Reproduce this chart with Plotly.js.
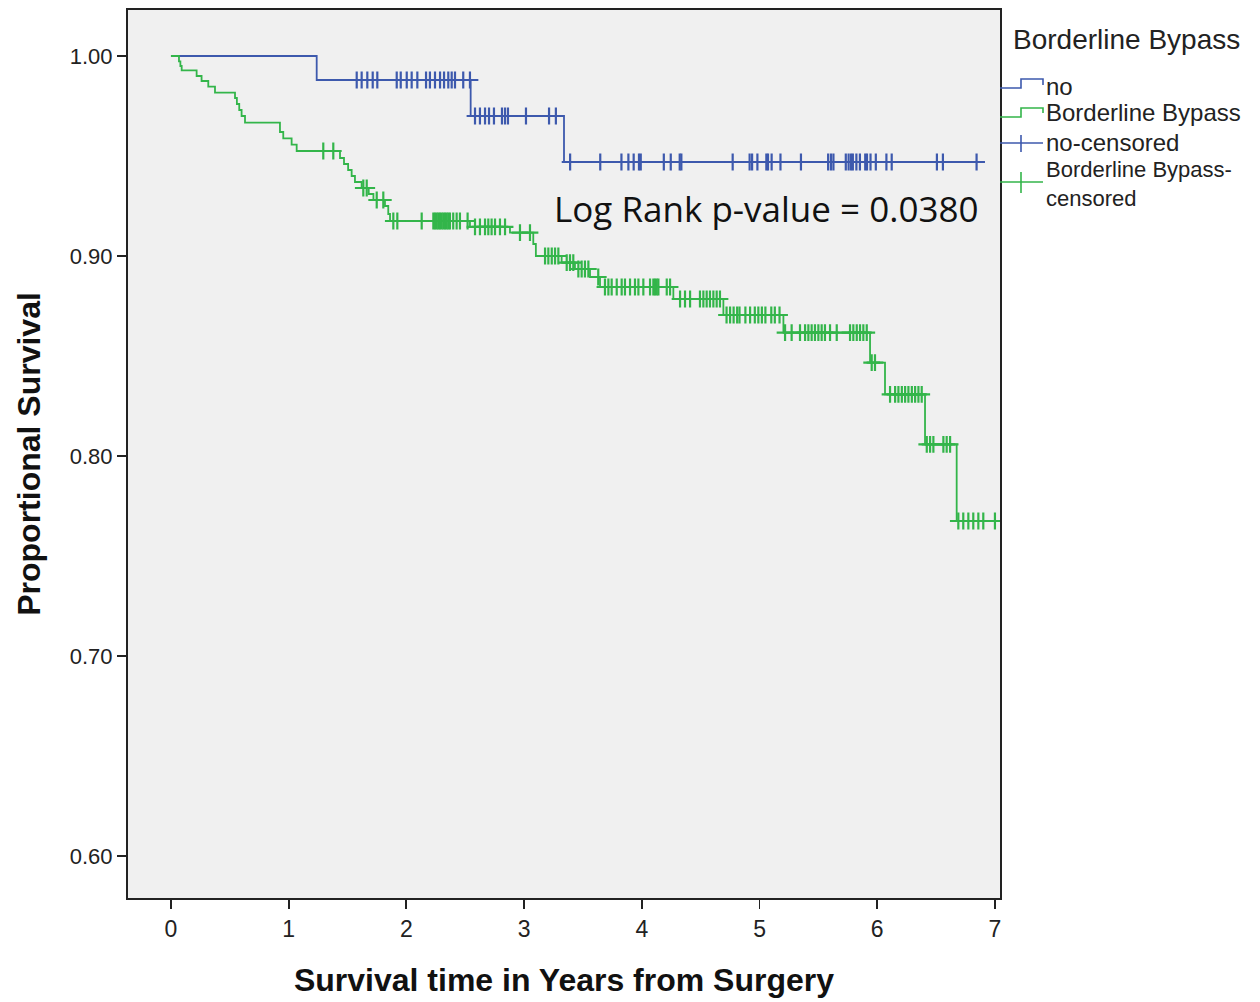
<!DOCTYPE html>
<html><head><meta charset="utf-8">
<script src="https://cdn.plot.ly/plotly-3.0.1.min.js"></script>
<style>html,body{margin:0;padding:0;background:#fff;} #chart{width:1260px;height:1002px;}</style>
</head><body><div id="chart"></div>
<script>
// ---- DATA ----
const groupNames = ["no", "Borderline Bypass"];
const legendTitle = "Borderline Bypass";
const censoredNames = ["no-censored", "Borderline Bypass-<br>censored"];

// Group "no": step times (years) and survival after each step
const noTimes = [0, 1.238, 2.546, 3.339];
const noSurv  = [1.000, 0.988, 0.970, 0.947];
const noEnd = 6.844;
const noCensored = [
  1.578, 1.620, 1.668, 1.714, 1.753, 1.918, 1.952, 2.003, 2.045, 2.093, 2.167, 2.200, 2.243, 2.286, 2.320, 2.356, 2.385, 2.413, 2.483, 2.540,
  2.583, 2.625, 2.668, 2.702, 2.744, 2.812, 2.838, 2.863, 3.016, 3.212, 3.270,
  3.391, 3.647, 3.827, 3.886, 3.931, 3.976, 3.991, 4.187, 4.246, 4.322, 4.336, 4.772, 4.916, 4.937, 4.982, 5.058, 5.072, 5.103, 5.178, 5.352,
  5.583, 5.607, 5.628, 5.733, 5.757, 5.778, 5.793, 5.823, 5.853, 5.898, 5.913, 5.943, 5.988, 6.078, 6.123, 6.507, 6.558, 6.844
];

// Group "Borderline Bypass"
const bbTimes = [0, 0.068, 0.080, 0.091, 0.218, 0.260, 0.317, 0.374, 0.544, 0.560, 0.580, 0.600, 0.629, 0.926, 0.954, 1.025, 1.068,
  1.436, 1.470, 1.505, 1.535, 1.563, 1.620, 1.680, 1.720, 1.818, 1.846, 1.861, 2.540, 2.880, 3.078, 3.100, 3.319, 3.432, 3.560, 3.645,
  4.268, 4.693, 5.203, 5.939, 6.066, 6.406, 6.675];
const bbSurv = [1.000, 0.9973, 0.9950, 0.9928, 0.9900, 0.9875, 0.9847, 0.9817, 0.9790, 0.9760, 0.9730, 0.9700, 0.9667, 0.9620, 0.9588, 0.9557, 0.9525,
  0.9490, 0.9460, 0.9430, 0.9400, 0.9370, 0.9340, 0.9310, 0.9280, 0.9250, 0.9210, 0.9175, 0.9146, 0.9117, 0.9060, 0.9000, 0.8967, 0.8935, 0.8895, 0.8845,
  0.8785, 0.8705, 0.8617, 0.8467, 0.8308, 0.8058, 0.7675];
const bbEnd = 7.0;
const bbCensored = [
  1.294, 1.379, 1.634, 1.663, 1.748, 1.804,
  1.889, 1.923, 2.130, 2.229, 2.243, 2.258, 2.272, 2.285, 2.300, 2.314, 2.328, 2.342, 2.356, 2.370, 2.398, 2.427, 2.455, 2.520,
  2.583, 2.625, 2.668, 2.696, 2.724, 2.753, 2.795, 2.838, 2.965, 3.050,
  3.178, 3.206, 3.235, 3.263, 3.291, 3.362, 3.390, 3.418, 3.461, 3.489, 3.517, 3.546, 3.630,
  3.687, 3.716, 3.744, 3.787, 3.829, 3.857, 3.900, 3.942, 3.971, 4.013, 4.070, 4.098, 4.112, 4.127, 4.141, 4.212, 4.240,
  4.325, 4.367, 4.410, 4.494, 4.523, 4.551, 4.579, 4.608, 4.636, 4.664,
  4.720, 4.750, 4.780, 4.810, 4.830, 4.880, 4.920, 4.960, 4.990, 5.020, 5.050, 5.100, 5.130, 5.170,
  5.217, 5.273, 5.344, 5.387, 5.415, 5.443, 5.471, 5.500, 5.528, 5.556, 5.599, 5.656, 5.769, 5.797, 5.826, 5.854, 5.882, 5.911,
  5.953, 5.981, 6.109, 6.152, 6.180, 6.209, 6.237, 6.265, 6.294, 6.322, 6.350, 6.378,
  6.421, 6.449, 6.477, 6.562, 6.590, 6.619, 6.689, 6.731, 6.774, 6.816, 6.859, 6.901, 7.000
];

const xTicks = [0, 1, 2, 3, 4, 5, 6, 7];
const yTicks = [0.60, 0.70, 0.80, 0.90, 1.00];
const yTickText = ["0.60", "0.70", "0.80", "0.90", "1.00"];
const logRankText = "Log Rank p-value = 0.0380";

// ---- styles ----
const blue = "#3d59ad";
const green = "#33b54a";

function stepLine(times, surv, end) {
  return { x: times.concat([end]), y: surv.concat([surv[surv.length - 1]]) };
}
function survAt(times, surv, t) {
  let s = surv[0];
  for (let i = 0; i < times.length; i++) if (times[i] <= t) s = surv[i];
  return s;
}

const noLine = stepLine(noTimes, noSurv, noEnd);
const bbLine = stepLine(bbTimes, bbSurv, bbEnd);

const traces = [
  { x: noLine.x, y: noLine.y, type: "scatter", mode: "lines", line: { shape: "hv", color: blue, width: 1.8 }, name: groupNames[0], showlegend: false, hoverinfo: "skip" },
  { x: bbLine.x, y: bbLine.y, type: "scatter", mode: "lines", line: { shape: "hv", color: green, width: 1.8 }, name: groupNames[1], showlegend: false, hoverinfo: "skip" },
  { x: noCensored, y: noCensored.map(t => survAt(noTimes, noSurv, t)), type: "scatter", mode: "markers",
    marker: { symbol: "cross-thin-open", size: 12, color: blue, line: { width: 2.2, color: blue } }, name: censoredNames[0], showlegend: false, hoverinfo: "skip" },
  { x: bbCensored, y: bbCensored.map(t => survAt(bbTimes, bbSurv, t)), type: "scatter", mode: "markers",
    marker: { symbol: "cross-thin-open", size: 12, color: green, line: { width: 2.2, color: green } }, name: censoredNames[1], showlegend: false, hoverinfo: "skip" }
];

// pixel -> paper helpers for the hand-drawn legend (plot area 128..1000 x 10..898)
const PL = 128, PR = 1000, PT = 10, PB = 898;
const px = v => (v - PL) / (PR - PL);
const py = v => (PB - v) / (PB - PT);
function pathPx(pts) {
  return pts.map((p, i) => (i ? "L" : "M") + px(p[0]).toFixed(5) + "," + py(p[1]).toFixed(5)).join(" ");
}
const shapes = [
  { type: "path", xref: "paper", yref: "paper", path: pathPx([[1000, 88], [1021, 88], [1021, 79], [1043, 79], [1043, 85]]), line: { color: blue, width: 1.6 } },
  { type: "path", xref: "paper", yref: "paper", path: pathPx([[1000, 117], [1021, 117], [1021, 108], [1043, 108], [1043, 113]]), line: { color: green, width: 1.6 } },
  { type: "path", xref: "paper", yref: "paper", path: pathPx([[1000, 143], [1043, 143]]), line: { color: blue, width: 1.6 } },
  { type: "path", xref: "paper", yref: "paper", path: pathPx([[1021, 135], [1021, 152]]), line: { color: blue, width: 1.6 } },
  { type: "path", xref: "paper", yref: "paper", path: pathPx([[1000, 182], [1043, 182]]), line: { color: green, width: 1.6 } },
  { type: "path", xref: "paper", yref: "paper", path: pathPx([[1021, 172], [1021, 193]]), line: { color: green, width: 1.6 } }
];

const legFont = { family: "Liberation Sans, Arial, sans-serif", size: 24, color: "#222" };
function legText(text, x, y, size) {
  return { xref: "paper", yref: "paper", x: px(x), y: py(y), xanchor: "left", yanchor: "middle", align: "left", text: text, showarrow: false,
    font: Object.assign({}, legFont, size ? { size: size } : {}) };
}
const annotations = [
  legText(legendTitle, 1011, 40, 28),
  legText(groupNames[0], 1044, 86),
  legText(groupNames[1], 1044, 113),
  legText(censoredNames[0], 1044, 143),
  legText(censoredNames[1], 1044, 184, 22),
  { xref: "paper", yref: "paper", x: px(980), y: py(208), xanchor: "right", yanchor: "middle", text: logRankText, showarrow: false,
    font: { family: "Open Sans, Noto Sans, sans-serif", size: 35, color: "#111" } }
];

const layout = {
  width: 1260, height: 1002,
  margin: { l: PL, r: 1260 - PR, t: PT, b: 1002 - PB, pad: 0 },
  paper_bgcolor: "#ffffff",
  plot_bgcolor: "#f0f0f0",
  showlegend: false,
  font: { family: "Liberation Sans, Arial, sans-serif", color: "#222" },
  xaxis: {
    range: [-0.365, 7.043], tickvals: xTicks, ticktext: xTicks.map(String),
    showgrid: false, zeroline: false, showline: true, mirror: true, linecolor: "#222", linewidth: 2,
    ticks: "outside", ticklen: 9, tickwidth: 1.8, tickcolor: "#222",
    tickfont: { size: 23, color: "#222" },
    title: { text: "Survival time in Years from Surgery", font: { size: 32, color: "#111", weight: "bold", family: "Liberation Sans, Arial, sans-serif" }, standoff: 28 },
    automargin: false
  },
  yaxis: {
    range: [0.579, 1.023], tickvals: yTicks, ticktext: yTickText,
    showgrid: false, zeroline: false, showline: true, mirror: true, linecolor: "#222", linewidth: 2,
    ticks: "outside", ticklen: 9, tickwidth: 1.8, tickcolor: "#222",
    tickfont: { size: 22, color: "#222" },
    title: { text: "Proportional Survival", font: { size: 32, color: "#111", weight: "bold", family: "Liberation Sans, Arial, sans-serif" }, standoff: 20 },
    automargin: false
  },
  shapes: shapes,
  annotations: annotations
};

Plotly.newPlot("chart", traces, layout, { displayModeBar: false, staticPlot: true });
</script>
</body></html>
